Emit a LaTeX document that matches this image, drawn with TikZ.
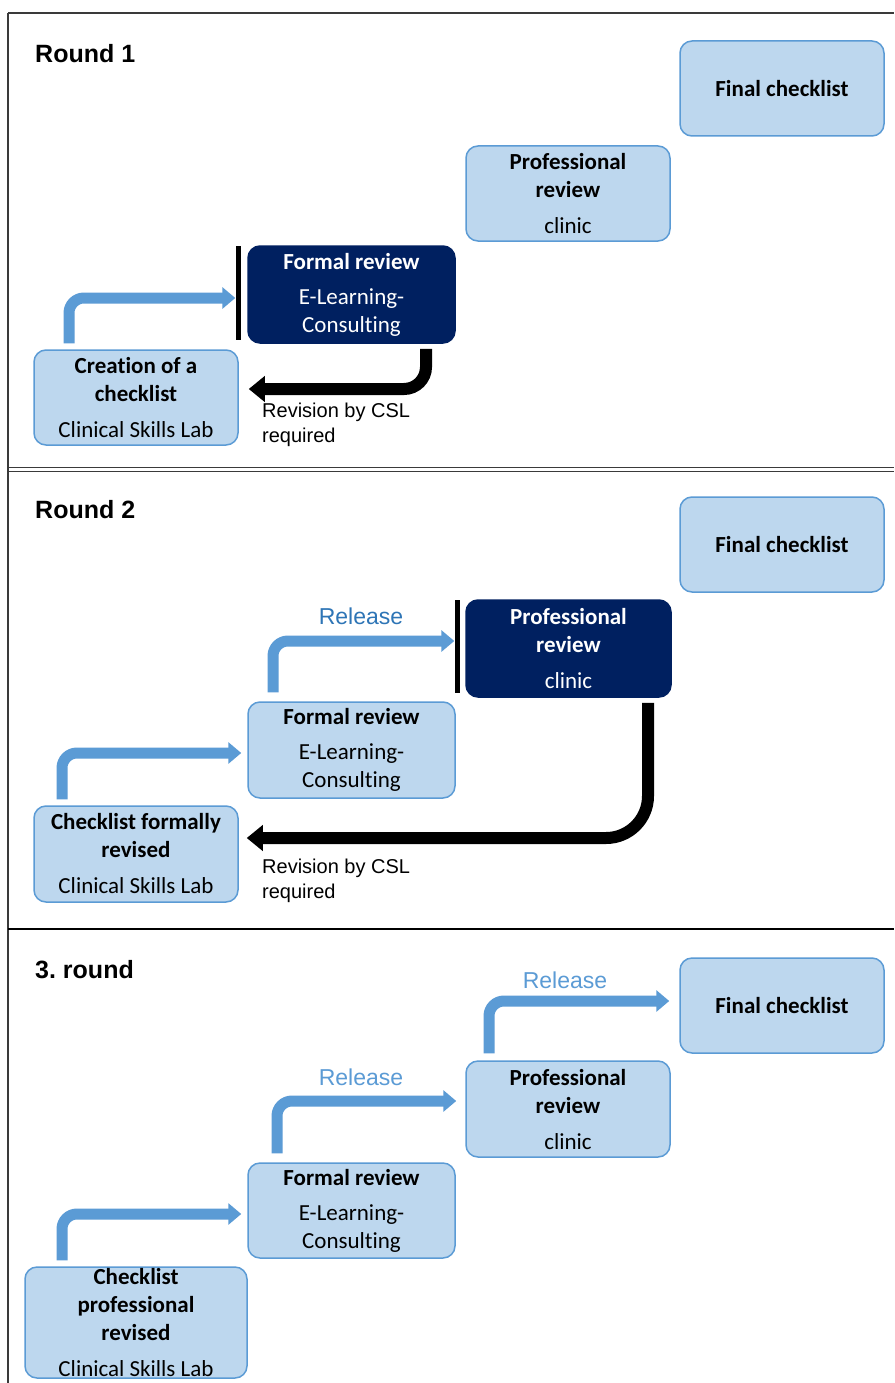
\documentclass[tikz,border=0pt]{standalone}
\usepackage{fontspec}
\setmainfont{Carlito}[Ligatures=NoCommon]
\newfontfamily\arialfont{Liberation Sans}
\usetikzlibrary{arrows.meta,calc}
\frenchspacing
\definecolor{boxfill}{HTML}{BDD7EE}
\definecolor{boxline}{HTML}{5B9BD5}
\definecolor{navy}{HTML}{002060}
\definecolor{arrowblue}{HTML}{5B9BD5}
\definecolor{reldark}{HTML}{2E75B6}
\definecolor{rellight}{HTML}{5B9BD5}
\definecolor{framegray}{HTML}{3A3A3A}
\tikzset{
  box/.style={rounded corners=12pt, draw=boxline, fill=boxfill, line width=1.5pt,
    align=center, inner sep=0pt, font=\fontsize{23}{28}\selectfont,
    minimum width=204pt, minimum height=95pt},
  darkbox/.style={box, draw=navy, fill=navy, text=white},
  barnode/.style={fill=black, draw=none, inner sep=0pt, minimum width=5pt},
  bluearrow/.style={draw=arrowblue, line width=11pt, rounded corners=15pt,
    -{Triangle[length=13pt,width=21pt]}},
  blackarrow/.style={draw=black, line width=12pt,
    -{Triangle[length=16pt,width=25pt]}},
  roundtitle/.style={font=\arialfont\bfseries\fontsize{25}{30}\selectfont, anchor=west, inner sep=0pt},
  revlabel/.style={font=\arialfont\fontsize{20}{25}\selectfont, anchor=north west, align=left, inner sep=0pt},
  rellabel/.style={font=\arialfont\fontsize{23}{28}\selectfont, inner sep=0pt},
  frameline/.style={draw=framegray, line width=1.3pt}
}
\begin{document}
\begin{tikzpicture}[x=1pt,y=-1pt]
\useasboundingbox (0,0) rectangle (894,1383);
\fill[white] (0,0) rectangle (894,1383);
% frame
\draw[frameline] (8,13) -- (894,13);
\draw[frameline] (8,13) -- (8,1383);
\draw[frameline, line width=1.1pt] (8,467.5) -- (894,467.5);
\draw[frameline, line width=1.1pt] (8,471.5) -- (894,471.5);
\draw[black, line width=2.4pt] (8,929) -- (894,929);

% ---------- Round 1 ----------
\node[roundtitle] (t1) at (35,54) {Round 1};
\node[box] (fc1) at (782,88.5) {\textbf{Final checklist}};
\node[box] (pr1) at (568,193.5) {\textbf{Professional}\\\textbf{review}\\[8pt]clinic};
\node[darkbox, minimum width=207pt, minimum height=97pt] (fr1) at (351.5,294.5) {\textbf{Formal review}\\[7pt]E-Learning-\\Consulting};
\node[box] (c1) at (136,397.5) {\textbf{Creation of a}\\\textbf{checklist}\\[8pt]Clinical Skills Lab};
\node[barnode, minimum height=94pt] (b1) at (238,293) {};
\draw[bluearrow] ([xshift=-67pt,yshift=6pt]c1.north) |- ([yshift=-5pt]b1.west);
\draw[blackarrow, rounded corners=22pt] ([xshift=74.5pt,yshift=-5pt]fr1.south) |- ([xshift=10pt,yshift=8.5pt]c1.east);
\node[revlabel] (r1) at (262,403) {Revision by CSL\\required};

% ---------- Round 2 ----------
\node[roundtitle] (t2) at (35,510) {Round 2};
\node[box] (fc2) at (782,544.5) {\textbf{Final checklist}};
\node[darkbox, minimum width=205pt, minimum height=97pt] (pr2) at (568.5,648.5) {\textbf{Professional}\\\textbf{review}\\[8pt]clinic};
\node[barnode, minimum height=93pt] (b2) at (457,646.5) {};
\node[box, minimum width=207pt, minimum height=96pt] (fr2) at (351.5,750) {\textbf{Formal review}\\[7pt]E-Learning-\\Consulting};
\node[box, minimum height=96pt] (c2) at (136,854) {\textbf{Checklist formally}\\\textbf{revised}\\[8pt]Clinical Skills Lab};
\draw[bluearrow] ([xshift=-74pt,yshift=6pt]c2.north) |- ([xshift=-6pt,yshift=-3pt]fr2.west);
\draw[bluearrow] ([xshift=-78.5pt,yshift=9pt]fr2.north) |- ([yshift=5.5pt]b2.west);
\node[rellabel, text=reldark] (l2) at (361,616) {Release};
\draw[blackarrow, rounded corners=42pt] ([xshift=79.5pt,yshift=-5pt]pr2.south) |- ([xshift=8pt,yshift=16pt]c2.east);
\node[revlabel] (r2) at (262,859) {Revision by CSL\\required};

% ---------- Round 3 ----------
\node[roundtitle] (t3) at (35,970) {3. round};
\node[box] (fc3) at (782,1005.5) {\textbf{Final checklist}};
\node[box, minimum height=96pt] (pr3) at (568,1109) {\textbf{Professional}\\\textbf{review}\\[8pt]clinic};
\node[box, minimum width=207pt] (fr3) at (351.5,1210.5) {\textbf{Formal review}\\[7pt]E-Learning-\\Consulting};
\node[box, minimum width=222pt, minimum height=111pt] (c3) at (136,1322.5) {\textbf{Checklist}\\\textbf{professional}\\\textbf{revised}\\[8pt]Clinical Skills Lab};
\draw[bluearrow] ([xshift=-74pt,yshift=6pt]c3.north) |- ([xshift=-6pt,yshift=-3.5pt]fr3.west);
\draw[bluearrow] ([xshift=-74.5pt,yshift=9pt]fr3.north) |- ([xshift=-9pt,yshift=8pt]pr3.west);
\draw[bluearrow] ([xshift=-79pt,yshift=7pt]pr3.north) |- ([xshift=-10pt,yshift=4.5pt]fc3.west);
\node[rellabel, text=rellight] (l3a) at (361,1077) {Release};
\node[rellabel, text=rellight] (l3b) at (565,980) {Release};
\end{tikzpicture}
\end{document}
